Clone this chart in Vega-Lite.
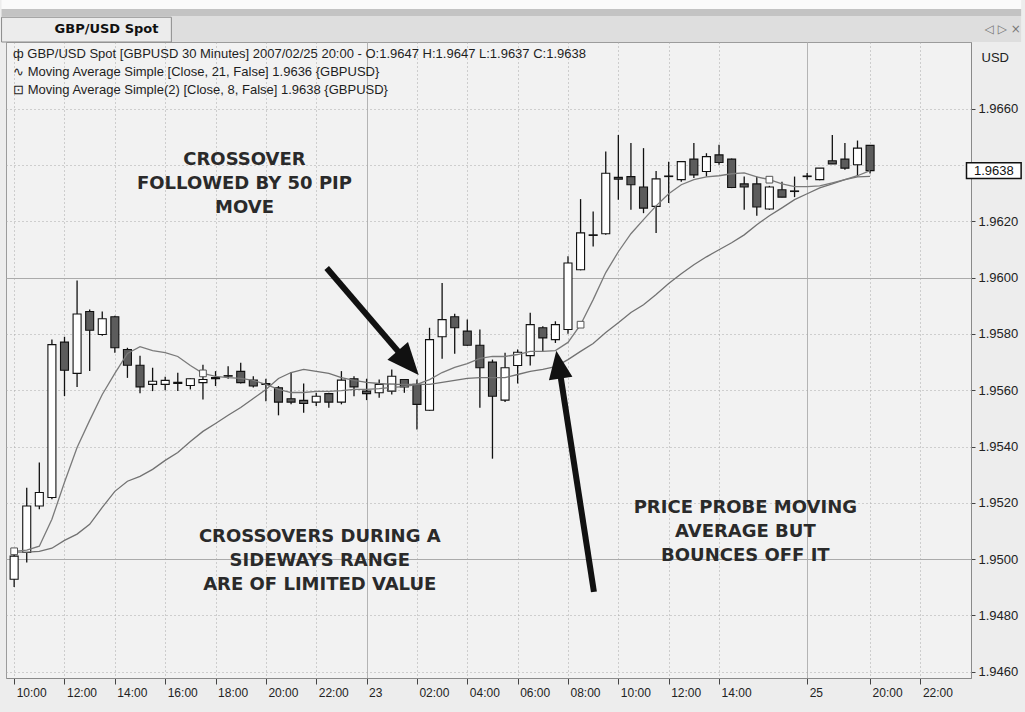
{
  "$schema": "https://vega.github.io/schema/vega-lite/v6.json",
  "width": 965,
  "height": 636,
  "autosize": {"type": "none"},
  "padding": {"left": 6, "top": 42, "right": 54, "bottom": 34},
  "background": "#ededed",
  "datasets": {
    "bars": [
      {"i":0,"t":"2007-02-22 10:00","o":1.94929,"h":1.95021,"l":1.94901,"c":1.95011,"ma8":1.95028,"ma21":1.95025},
      {"i":1,"t":"2007-02-22 10:30","o":1.95024,"h":1.95254,"l":1.94988,"c":1.95189,"ma8":1.95032,"ma21":1.95025},
      {"i":2,"t":"2007-02-22 11:00","o":1.95189,"h":1.95343,"l":1.95177,"c":1.95237,"ma8":1.95046,"ma21":1.95028},
      {"i":3,"t":"2007-02-22 11:30","o":1.95219,"h":1.95780,"l":1.95213,"c":1.95762,"ma8":1.95142,"ma21":1.95039},
      {"i":4,"t":"2007-02-22 12:00","o":1.95771,"h":1.95790,"l":1.95579,"c":1.95671,"ma8":1.95273,"ma21":1.95067},
      {"i":5,"t":"2007-02-22 12:30","o":1.95660,"h":1.95990,"l":1.95612,"c":1.95871,"ma8":1.95397,"ma21":1.95089},
      {"i":6,"t":"2007-02-22 13:00","o":1.95880,"h":1.95887,"l":1.95668,"c":1.95813,"ma8":1.95493,"ma21":1.95124},
      {"i":7,"t":"2007-02-22 13:30","o":1.95798,"h":1.95880,"l":1.95794,"c":1.95854,"ma8":1.95585,"ma21":1.95184},
      {"i":8,"t":"2007-02-22 14:00","o":1.95861,"h":1.95865,"l":1.95733,"c":1.95751,"ma8":1.95660,"ma21":1.95241},
      {"i":9,"t":"2007-02-22 14:30","o":1.95745,"h":1.95751,"l":1.95644,"c":1.95689,"ma8":1.95731,"ma21":1.95277},
      {"i":10,"t":"2007-02-22 15:00","o":1.95689,"h":1.95723,"l":1.95589,"c":1.95612,"ma8":1.95755,"ma21":1.95294},
      {"i":11,"t":"2007-02-22 15:30","o":1.95621,"h":1.95680,"l":1.95597,"c":1.95632,"ma8":1.95741,"ma21":1.95319},
      {"i":12,"t":"2007-02-22 16:00","o":1.95621,"h":1.95648,"l":1.95600,"c":1.95635,"ma8":1.95734,"ma21":1.95351},
      {"i":13,"t":"2007-02-22 16:30","o":1.95628,"h":1.95662,"l":1.95597,"c":1.95624,"ma8":1.95720,"ma21":1.95379},
      {"i":14,"t":"2007-02-22 17:00","o":1.95617,"h":1.95642,"l":1.95603,"c":1.95641,"ma8":1.95688,"ma21":1.95418},
      {"i":15,"t":"2007-02-22 17:30","o":1.95627,"h":1.95691,"l":1.95567,"c":1.95638,"ma8":1.95660,"ma21":1.95454},
      {"i":16,"t":"2007-02-22 18:00","o":1.95641,"h":1.95668,"l":1.95615,"c":1.95645,"ma8":1.95649,"ma21":1.95482},
      {"i":17,"t":"2007-02-22 18:30","o":1.95650,"h":1.95685,"l":1.95641,"c":1.95652,"ma8":1.95645,"ma21":1.95511},
      {"i":18,"t":"2007-02-22 19:00","o":1.95667,"h":1.95698,"l":1.95624,"c":1.95627,"ma8":1.95642,"ma21":1.95539},
      {"i":19,"t":"2007-02-22 19:30","o":1.95636,"h":1.95650,"l":1.95610,"c":1.95615,"ma8":1.95635,"ma21":1.95571},
      {"i":20,"t":"2007-02-22 20:00","o":1.95624,"h":1.95641,"l":1.95561,"c":1.95621,"ma8":1.95621,"ma21":1.95603},
      {"i":21,"t":"2007-02-22 20:30","o":1.95609,"h":1.95615,"l":1.95511,"c":1.95558,"ma8":1.95603,"ma21":1.95642},
      {"i":22,"t":"2007-02-22 21:00","o":1.95570,"h":1.95664,"l":1.95550,"c":1.95558,"ma8":1.95592,"ma21":1.95663},
      {"i":23,"t":"2007-02-22 21:30","o":1.95564,"h":1.95624,"l":1.95520,"c":1.95553,"ma8":1.95592,"ma21":1.95674},
      {"i":24,"t":"2007-02-22 22:00","o":1.95558,"h":1.95591,"l":1.95544,"c":1.95579,"ma8":1.95596,"ma21":1.95667},
      {"i":25,"t":"2007-02-22 22:30","o":1.95588,"h":1.95591,"l":1.95538,"c":1.95558,"ma8":1.95596,"ma21":1.95660},
      {"i":26,"t":"2007-02-22 23:00","o":1.95558,"h":1.95668,"l":1.95550,"c":1.95636,"ma8":1.95599,"ma21":1.95645},
      {"i":27,"t":"2007-02-22 23:30","o":1.95641,"h":1.95650,"l":1.95579,"c":1.95612,"ma8":1.95603,"ma21":1.95635},
      {"i":28,"t":"2007-02-23 00:00","o":1.95597,"h":1.95641,"l":1.95565,"c":1.95588,"ma8":1.95603,"ma21":1.95628},
      {"i":29,"t":"2007-02-23 00:30","o":1.95591,"h":1.95638,"l":1.95573,"c":1.95621,"ma8":1.95606,"ma21":1.95624},
      {"i":30,"t":"2007-02-23 01:00","o":1.95597,"h":1.95674,"l":1.95585,"c":1.95650,"ma8":1.95610,"ma21":1.95621},
      {"i":31,"t":"2007-02-23 01:30","o":1.95638,"h":1.95640,"l":1.95591,"c":1.95612,"ma8":1.95613,"ma21":1.95621},
      {"i":32,"t":"2007-02-23 02:00","o":1.95621,"h":1.95638,"l":1.95461,"c":1.95550,"ma8":1.95621,"ma21":1.95621},
      {"i":33,"t":"2007-02-23 02:30","o":1.95529,"h":1.95822,"l":1.95527,"c":1.95780,"ma8":1.95638,"ma21":1.95621},
      {"i":34,"t":"2007-02-23 03:00","o":1.95790,"h":1.95981,"l":1.95712,"c":1.95851,"ma8":1.95663,"ma21":1.95628},
      {"i":35,"t":"2007-02-23 03:30","o":1.95861,"h":1.95872,"l":1.95730,"c":1.95822,"ma8":1.95681,"ma21":1.95635},
      {"i":36,"t":"2007-02-23 04:00","o":1.95810,"h":1.95851,"l":1.95758,"c":1.95760,"ma8":1.95695,"ma21":1.95642},
      {"i":37,"t":"2007-02-23 04:30","o":1.95760,"h":1.95816,"l":1.95538,"c":1.95680,"ma8":1.95713,"ma21":1.95645},
      {"i":38,"t":"2007-02-23 05:00","o":1.95700,"h":1.95709,"l":1.95357,"c":1.95579,"ma8":1.95720,"ma21":1.95645},
      {"i":39,"t":"2007-02-23 05:30","o":1.95565,"h":1.95733,"l":1.95558,"c":1.95680,"ma8":1.95720,"ma21":1.95645},
      {"i":40,"t":"2007-02-23 06:00","o":1.95688,"h":1.95745,"l":1.95624,"c":1.95735,"ma8":1.95727,"ma21":1.95656},
      {"i":41,"t":"2007-02-23 06:30","o":1.95723,"h":1.95875,"l":1.95688,"c":1.95833,"ma8":1.95738,"ma21":1.95667},
      {"i":42,"t":"2007-02-23 07:00","o":1.95822,"h":1.95827,"l":1.95739,"c":1.95786,"ma8":1.95738,"ma21":1.95674},
      {"i":43,"t":"2007-02-23 07:30","o":1.95780,"h":1.95845,"l":1.95768,"c":1.95833,"ma8":1.95741,"ma21":1.95684},
      {"i":44,"t":"2007-02-23 08:00","o":1.95816,"h":1.96076,"l":1.95801,"c":1.96052,"ma8":1.95770,"ma21":1.95709},
      {"i":45,"t":"2007-02-23 08:30","o":1.96028,"h":1.96279,"l":1.96026,"c":1.96159,"ma8":1.95833,"ma21":1.95738},
      {"i":46,"t":"2007-02-23 09:00","o":1.96152,"h":1.96235,"l":1.96111,"c":1.96150,"ma8":1.95922,"ma21":1.95766},
      {"i":47,"t":"2007-02-23 09:30","o":1.96156,"h":1.96448,"l":1.96152,"c":1.96371,"ma8":1.96018,"ma21":1.95805},
      {"i":48,"t":"2007-02-23 10:00","o":1.96356,"h":1.96507,"l":1.96277,"c":1.96350,"ma8":1.96092,"ma21":1.95840},
      {"i":49,"t":"2007-02-23 10:30","o":1.96359,"h":1.96478,"l":1.96241,"c":1.96330,"ma8":1.96156,"ma21":1.95876},
      {"i":50,"t":"2007-02-23 11:00","o":1.96322,"h":1.96460,"l":1.96229,"c":1.96247,"ma8":1.96206,"ma21":1.95904},
      {"i":51,"t":"2007-02-23 11:30","o":1.96253,"h":1.96379,"l":1.96159,"c":1.96351,"ma8":1.96255,"ma21":1.95940},
      {"i":52,"t":"2007-02-23 12:00","o":1.96359,"h":1.96412,"l":1.96265,"c":1.96361,"ma8":1.96298,"ma21":1.95979},
      {"i":53,"t":"2007-02-23 12:30","o":1.96348,"h":1.96412,"l":1.96341,"c":1.96412,"ma8":1.96330,"ma21":1.96014},
      {"i":54,"t":"2007-02-23 13:00","o":1.96421,"h":1.96478,"l":1.96354,"c":1.96365,"ma8":1.96348,"ma21":1.96046},
      {"i":55,"t":"2007-02-23 13:30","o":1.96377,"h":1.96442,"l":1.96359,"c":1.96430,"ma8":1.96358,"ma21":1.96074},
      {"i":56,"t":"2007-02-23 14:00","o":1.96436,"h":1.96472,"l":1.96401,"c":1.96409,"ma8":1.96362,"ma21":1.96099},
      {"i":57,"t":"2007-02-23 14:30","o":1.96421,"h":1.96423,"l":1.96318,"c":1.96320,"ma8":1.96369,"ma21":1.96124},
      {"i":58,"t":"2007-02-23 15:00","o":1.96333,"h":1.96359,"l":1.96241,"c":1.96322,"ma8":1.96372,"ma21":1.96152},
      {"i":59,"t":"2007-02-23 15:30","o":1.96333,"h":1.96359,"l":1.96220,"c":1.96251,"ma8":1.96358,"ma21":1.96188},
      {"i":60,"t":"2007-02-23 16:00","o":1.96244,"h":1.96326,"l":1.96241,"c":1.96322,"ma8":1.96348,"ma21":1.96220},
      {"i":61,"t":"2007-02-23 16:30","o":1.96312,"h":1.96341,"l":1.96286,"c":1.96286,"ma8":1.96333,"ma21":1.96248},
      {"i":62,"t":"2007-02-23 17:00","o":1.96306,"h":1.96359,"l":1.96286,"c":1.96308,"ma8":1.96323,"ma21":1.96277},
      {"i":63,"t":"2007-02-25 17:30","o":1.96359,"h":1.96372,"l":1.96348,"c":1.96361,"ma8":1.96323,"ma21":1.96298},
      {"i":64,"t":"2007-02-25 18:00","o":1.96348,"h":1.96389,"l":1.96346,"c":1.96389,"ma8":1.96326,"ma21":1.96319},
      {"i":65,"t":"2007-02-25 18:30","o":1.96415,"h":1.96507,"l":1.96404,"c":1.96404,"ma8":1.96337,"ma21":1.96333},
      {"i":66,"t":"2007-02-25 19:00","o":1.96421,"h":1.96478,"l":1.96383,"c":1.96389,"ma8":1.96348,"ma21":1.96348},
      {"i":67,"t":"2007-02-25 19:30","o":1.96401,"h":1.96487,"l":1.96359,"c":1.96460,"ma8":1.96362,"ma21":1.96358},
      {"i":68,"t":"2007-02-25 20:00","o":1.9647,"h":1.9647,"l":1.9637,"c":1.9638,"ma8":1.9638,"ma21":1.9636}
    ],
    "notes": [
      {"i": 18.3, "p": 1.96418, "note": "CROSSOVER\nFOLLOWED BY 50 PIP\nMOVE"},
      {"i": 24.28, "p": 1.95079, "note": "CROSSOVERS DURING A\nSIDEWAYS RANGE\nARE OF LIMITED VALUE"},
      {"i": 58.09, "p": 1.95182, "note": "PRICE PROBE MOVING\nAVERAGE BUT\nBOUNCES OFF IT"}
    ]
  },
  "layer": [
    {
      "data": {"name": "bars"},
      "mark": {"type": "rule", "color": "#111111", "strokeWidth": 1.3},
      "encoding": {
        "x": {
          "field": "i", "type": "quantitative",
          "scale": {"domain": [-0.25, 75.62], "nice": false, "zero": false},
          "axis": {
            "title": null,
            "values": [0, 4, 8, 12, 16, 20, 24, 28, 32, 36, 40, 44, 48, 52, 56, 63, 68, 72],
            "labelExpr": "['10:00','12:00','14:00','16:00','18:00','20:00','22:00','23','02:00','04:00','06:00','08:00','10:00','12:00','14:00','25','20:00','22:00'][indexof([0,4,8,12,16,20,24,28,32,36,40,44,48,52,56,63,68,72], datum.value)]",
            "grid": true,
            "gridDash": {"condition": {"test": "datum.value == 28 || datum.value == 63", "value": []}, "value": [1, 3]},
            "gridColor": {"condition": {"test": "datum.value == 28 || datum.value == 63", "value": "#b4b4b4"}, "value": "#a9a9a9"},
            "tickSize": 6, "tickColor": "#444444",
            "labelAlign": "left", "labelOffset": 2, "labelPadding": 3,
            "labelFont": "Liberation Sans Narrow, Arial Narrow, Liberation Sans", "labelFontSize": 12, "labelColor": "#222222",
            "labelOverlap": false, "labelFlush": false, "labelBound": false,
            "domainColor": "#8a8a8a"
          }
        },
        "y": {
          "field": "l", "type": "quantitative",
          "scale": {"domain": [1.94578, 1.96837], "nice": false, "zero": false},
          "axis": {
            "orient": "right",
            "title": "USD", "titleAngle": 0, "titleAlign": "left", "titleBaseline": "middle",
            "titleX": 10, "titleY": 15, "titleFont": "Liberation Sans", "titleFontSize": 13,
            "titleFontWeight": "normal", "titleColor": "#222222",
            "values": [1.946, 1.9465, 1.947, 1.9475, 1.948, 1.9485, 1.949, 1.9495, 1.95, 1.9505, 1.951, 1.9515, 1.952, 1.9525, 1.953, 1.9535, 1.954, 1.9545, 1.955, 1.9555, 1.956, 1.9565, 1.957, 1.9575, 1.958, 1.9585, 1.959, 1.9595, 1.96, 1.9605, 1.961, 1.9615, 1.962, 1.9625, 1.963, 1.9635, 1.964, 1.9645, 1.965, 1.9655, 1.966, 1.9665, 1.967],
            "labelExpr": "(round(datum.value*10000) % 20 == 0 && round(datum.value*10000) != 19640) ? format(datum.value, '.4f') : ''",
            "grid": true,
            "gridOpacity": {"condition": {"test": "round(datum.value*10000) % 20 != 0", "value": 0}, "value": 1},
            "gridDash": {"condition": {"test": "round(datum.value*10000) % 100 == 0", "value": []}, "value": [1, 3]},
            "gridColor": "#ababab",
            "tickSize": 4, "tickColor": "#444444", "labelPadding": 3,
            "labelFont": "Liberation Sans", "labelFontSize": 13, "labelColor": "#222222",
            "labelOverlap": false, "labelBound": false,
            "domainColor": "#8a8a8a"
          }
        },
        "y2": {"field": "h"}
      }
    },
    {
      "data": {"name": "bars"},
      "mark": {"type": "bar", "size": 8, "stroke": "#111111", "strokeWidth": 1.1},
      "encoding": {
        "x": {"field": "i", "type": "quantitative"},
        "y": {"field": "o", "type": "quantitative"},
        "y2": {"field": "c"},
        "fill": {"condition": {"test": "datum.c >= datum.o", "value": "#ffffff"}, "value": "#5c5c5c"}
      }
    },
    {
      "data": {"name": "bars"},
      "mark": {"type": "line", "color": "#727272", "strokeWidth": 1.3},
      "encoding": {
        "x": {"field": "i", "type": "quantitative"},
        "y": {"field": "ma21", "type": "quantitative"}
      }
    },
    {
      "data": {"name": "bars"},
      "mark": {"type": "line", "color": "#7a7a7a", "strokeWidth": 1.3},
      "encoding": {
        "x": {"field": "i", "type": "quantitative"},
        "y": {"field": "ma8", "type": "quantitative"}
      }
    },
    {
      "data": {"name": "bars"},
      "transform": [{"filter": "datum.i % 15 == 0"}],
      "mark": {"type": "point", "shape": "square", "filled": true, "fill": "#ffffff", "stroke": "#555555", "strokeWidth": 1, "size": 45, "opacity": 1},
      "encoding": {
        "x": {"field": "i", "type": "quantitative"},
        "y": {"field": "ma8", "type": "quantitative"}
      }
    },
    {
      "data": {"values": [{}]},
      "mark": {"type": "rule", "color": "#111111", "strokeWidth": 6, "clip": false},
      "encoding": {
        "x": {"datum": 24.83}, "y": {"datum": 1.96034},
        "x2": {"datum": 30.95}, "y2": {"datum": 1.95715}
      }
    },
    {
      "data": {"values": [{}]},
      "mark": {"type": "point", "shape": "M0,0L0.85,2L-0.85,2Z", "filled": true, "color": "#111111", "opacity": 1, "size": 1024, "angle": 139, "clip": false},
      "encoding": {"x": {"datum": 32.14}, "y": {"datum": 1.95654}}
    },
    {
      "data": {"values": [{}]},
      "mark": {"type": "rule", "color": "#111111", "strokeWidth": 6, "clip": false},
      "encoding": {
        "x": {"datum": 46.06}, "y": {"datum": 1.94884},
        "x2": {"datum": 43.36}, "y2": {"datum": 1.95665}
      }
    },
    {
      "data": {"values": [{}]},
      "mark": {"type": "point", "shape": "M0,0L0.85,2L-0.85,2Z", "filled": true, "color": "#111111", "opacity": 1, "size": 784, "angle": -9, "clip": false},
      "encoding": {"x": {"datum": 43.07}, "y": {"datum": 1.9574}}
    },
    {
      "data": {"name": "notes"},
      "mark": {"type": "text", "font": "DejaVu Sans", "fontWeight": "bold", "fontSize": 18, "lineBreak": "\n", "lineHeight": 24, "align": "center", "baseline": "middle", "color": "#2a2a2a"},
      "encoding": {
        "x": {"field": "i", "type": "quantitative"},
        "y": {"field": "p", "type": "quantitative"},
        "text": {"field": "note"}
      }
    },
    {
      "data": {"values": [{}]},
      "mark": {"type": "text", "align": "left", "baseline": "top", "lineBreak": "\n", "lineHeight": 18, "font": "Liberation Sans", "fontSize": 13, "color": "#1e1e1e", "clip": false},
      "encoding": {
        "x": {"datum": -0.09}, "y": {"datum": 1.96816},
        "text": {"value": "ф GBP/USD Spot [GBPUSD  30 Minutes] 2007/02/25 20:00 - O:1.9647 H:1.9647 L:1.9637 C:1.9638\n∿ Moving Average Simple [Close, 21, False] 1.9636 {GBPUSD}\n⊡ Moving Average Simple(2) [Close, 8, False] 1.9638 {GBPUSD}"}
      }
    },
    {
      "data": {"values": [{}]},
      "mark": {"type": "rect", "fill": "#fafafa", "clip": false},
      "encoding": {"x": {"datum": -1}, "x2": {"datum": 80}, "y": {"datum": 1.96995}, "y2": {"datum": 1.96954}}
    },
    {
      "data": {"values": [{}]},
      "mark": {"type": "rect", "fill": "#c3c3c3", "clip": false},
      "encoding": {"x": {"datum": -1}, "x2": {"datum": 80}, "y": {"datum": 1.96954}, "y2": {"datum": 1.96929}}
    },
    {
      "data": {"values": [{}]},
      "mark": {"type": "rect", "fill": "#dedede", "clip": false},
      "encoding": {"x": {"datum": -1}, "x2": {"datum": 80}, "y": {"datum": 1.96929}, "y2": {"datum": 1.96837}}
    },
    {
      "data": {"values": [{}]},
      "mark": {"type": "rect", "fill": "#ececec", "stroke": "#8c8c8c", "strokeWidth": 1, "clip": false},
      "encoding": {"x": {"datum": -1}, "x2": {"datum": 12.49}, "y": {"datum": 1.96925}, "y2": {"datum": 1.96837}}
    },
    {
      "data": {"values": [{}]},
      "mark": {"type": "text", "align": "left", "baseline": "middle", "font": "DejaVu Sans", "fontSize": 13, "fontWeight": "bold", "color": "#111111", "clip": false},
      "encoding": {"x": {"datum": 3.21}, "y": {"datum": 1.96882}, "text": {"value": "GBP/USD Spot"}}
    },
    {
      "data": {"values": [{}]},
      "mark": {"type": "text", "align": "left", "baseline": "middle", "font": "DejaVu Sans", "fontSize": 12, "color": "#777777", "clip": false},
      "encoding": {"x": {"datum": 77.1}, "y": {"datum": 1.96882}, "text": {"value": "◁ ▷ ×"}}
    },
    {
      "data": {"values": [{}]},
      "mark": {"type": "rect", "fill": "#ffffff", "stroke": "#111111", "strokeWidth": 1.5, "clip": false},
      "encoding": {"x": {"datum": 75.66}, "x2": {"datum": 80}, "y": {"datum": 1.96408}, "y2": {"datum": 1.96352}}
    },
    {
      "data": {"values": [{}]},
      "mark": {"type": "text", "align": "left", "baseline": "middle", "font": "Liberation Sans", "fontSize": 13, "color": "#111111", "dx": 8, "clip": false},
      "encoding": {"x": {"datum": 75.62}, "y": {"datum": 1.9638}, "text": {"value": "1.9638"}}
    }
  ],
  "config": {
    "view": {"fill": "#f2f2f2", "stroke": "#9c9c9c", "strokeWidth": 1}
  }
}
